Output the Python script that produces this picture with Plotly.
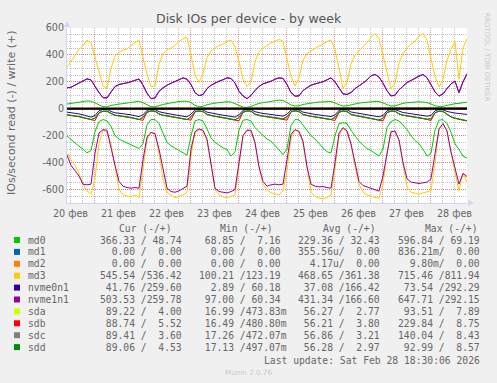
import plotly.graph_objects as go
import pandas as pd

# ---------------- data (2-hour samples, Feb 20 10:30 -> Feb 28 18:30) ----------------
t_start = "2026-02-20 10:30"
t_end = "2026-02-28 18:30"

devices = ["md0", "md1", "md2", "md3", "nvme0n1", "nvme1n1", "sda", "sdb", "sdc", "sdd"]
colors = ["#00CC00", "#0066B3", "#FF8000", "#FFCC00", "#330099",
          "#990099", "#CCFF00", "#FF0000", "#808080", "#008F00"]

md0_read = [203, 230, 255, 278, 300, 327, 310, 170, 95, 80,
            90, 130, 200, 225, 240, 255, 270, 280, 295, 260,
            120, 80, 80, 110, 180, 250, 275, 295, 310, 327,
            345, 200, 90, 80, 90, 150, 215, 250, 270, 290,
            302, 352, 320, 160, 85, 80, 90, 140, 170, 200,
            225, 240, 270, 305, 340, 300, 125, 80, 82, 120,
            155, 200, 225, 260, 290, 320, 327, 200, 110, 104,
            110, 160, 200, 240, 270, 295, 310, 330, 352, 300,
            140, 95, 80, 90, 120, 154, 200, 235, 260, 300,
            352, 330, 160, 85, 80, 110, 175, 260, 302, 352,
            366]
md0_write = [35, 40, 45, 50, 55, 58, 56, 45, 30, 15,
             14, 25, 32, 35, 38, 42, 48, 52, 56, 45,
             28, 15, 15, 25, 32, 38, 45, 50, 54, 56,
             56, 45, 25, 15, 18, 30, 38, 42, 46, 50,
             52, 50, 40, 25, 12, 10, 18, 30, 40, 45,
             50, 55, 60, 64, 62, 45, 28, 20, 22, 32,
             38, 42, 46, 50, 52, 55, 54, 42, 28, 20,
             22, 30, 38, 42, 46, 50, 52, 54, 54, 42,
             28, 20, 22, 32, 40, 45, 48, 50, 52, 50,
             46, 35, 22, 17, 18, 25, 32, 38, 40, 45,
             49]
md1_read = [0, 0, 0, 0, 0, 0, 0, 0, 0, 0,  0, 0, 0, 0, 0, 0, 0, 0, 0, 0,
            0, 0, 0, 0, 0, 0, 0, 0, 0, 0,  0, 0, 0, 0, 0, 0, 0, 0, 0, 0,
            0, 0, 0, 0, 0, 0, 0, 0, 0, 0,  0, 0, 0, 0, 0, 0, 0, 0, 0, 0,
            0, 0, 0, 0, 0, 0, 0, 0, 0, 0,  0, 0, 0, 0, 0, 0, 0, 0, 0, 0,
            0, 0, 0, 0, 0, 0, 0, 0, 0, 0,  0, 0, 0, 0, 0, 0, 0, 0, 0, 0, 0]
md1_write = [0, 0, 0, 0, 0, 0, 0, 0, 0, 0,  0, 0, 0, 0, 0, 0, 0, 0, 0, 0,
             0, 0, 0, 0, 0, 0, 0, 0, 0, 0,  0, 0, 0, 0, 0, 0, 0, 0, 0, 0,
             0, 0, 0, 0, 0, 0, 0, 0, 0, 0,  0, 0, 0, 0, 0, 0, 0, 0, 0, 0,
             0, 0, 0, 0, 0, 0, 0, 0, 0, 0,  0, 0, 0, 0, 0, 0, 0, 0, 0, 0,
             0, 0, 0, 0, 0, 0, 0, 0, 0, 0,  0, 0, 0, 0, 0, 0, 0, 0, 0, 0, 0]
md2_read = [0, 0, 0, 0, 0, 0, 0, 0, 0, 0,  0, 0, 0, 0, 0, 0, 0, 0, 0, 0,
            0, 0, 0, 0, 0, 0, 0, 0, 0, 0,  0, 0, 0, 0, 0, 0, 0, 0, 0, 0,
            0, 0, 0, 0, 0, 0, 0, 0, 0, 0,  0, 0, 0, 0, 0, 0, 0, 0, 0, 0,
            0, 0, 0, 0, 0, 0, 0, 0, 0, 0,  0, 0, 0, 0, 0, 0, 0, 0, 0, 0,
            0, 0, 0, 0, 0, 0, 0, 0, 0, 0,  0, 0, 0, 0, 0, 0, 0, 0, 0, 0, 0]
md2_write = [0, 0, 0, 0, 0, 0, 0, 0, 0, 0,  0, 0, 0, 0, 0, 0, 0, 0, 0, 0,
             0, 0, 0, 0, 0, 0, 0, 0, 0, 0,  0, 0, 0, 0, 0, 0, 0, 0, 0, 0,
             0, 0, 0, 0, 0, 0, 0, 0, 0, 0,  0, 0, 0, 0, 0, 0, 0, 0, 0, 0,
             0, 0, 0, 0, 0, 0, 0, 0, 0, 0,  0, 0, 0, 0, 0, 0, 0, 0, 0, 0,
             0, 0, 0, 0, 0, 0, 0, 0, 0, 0,  0, 0, 0, 0, 0, 0, 0, 0, 0, 0, 0]
md3_read = [327, 380, 420, 480, 560, 610, 635, 520, 260, 160,
            170, 260, 430, 600, 640, 650, 655, 640, 660, 450,
            230, 175, 190, 330, 520, 620, 640, 660, 650, 640,
            620, 350, 180, 155, 165, 240, 420, 600, 640, 650,
            665, 650, 640, 430, 200, 155, 165, 260, 440, 560,
            600, 625, 630, 640, 610, 460, 220, 155, 165, 260,
            440, 620, 650, 665, 670, 660, 640, 450, 200, 145,
            170, 270, 430, 560, 620, 640, 650, 660, 665, 560,
            330, 170, 170, 240, 420, 580, 620, 630, 635, 625,
            620, 610, 400, 150, 110, 170, 330, 460, 610, 480,
            545]
md3_write = [307, 350, 400, 440, 470, 510, 490, 380, 270, 170,
             150, 300, 390, 420, 435, 445, 470, 490, 510, 380,
             260, 165, 170, 330, 410, 440, 450, 470, 500, 520,
             530, 400, 250, 195, 260, 380, 430, 450, 470, 480,
             500, 510, 460, 350, 220, 165, 200, 350, 420, 450,
             470, 490, 500, 515, 500, 380, 240, 170, 230, 360,
             410, 430, 450, 465, 480, 500, 510, 440, 300, 150,
             200, 330, 400, 430, 460, 490, 530, 560, 520, 400,
             260, 150, 190, 340, 410, 450, 480, 500, 540, 560,
             510, 380, 240, 160, 220, 360, 440, 500, 220, 450,
             520]
nvme0n1_read = [25, 28, 32, 38, 45, 55, 62, 50, 15, 5,
                5, 20, 30, 33, 36, 40, 45, 52, 58, 45,
                12, 4, 6, 22, 30, 35, 40, 44, 50, 55,
                60, 40, 10, 4, 8, 25, 32, 38, 42, 48,
                52, 58, 62, 45, 12, 5, 6, 22, 30, 35,
                38, 42, 46, 50, 55, 40, 10, 4, 8, 25,
                32, 38, 42, 46, 50, 55, 58, 45, 12, 5,
                7, 24, 30, 36, 40, 45, 50, 55, 60, 50,
                15, 5, 6, 20, 28, 32, 36, 40, 45, 50,
                55, 50, 15, 5, 8, 20, 28, 32, 35, 38,
                42]
nvme0n1_write = [155, 160, 176, 190, 209, 222, 214, 166, 120, 83,
                 80, 124, 165, 181, 185, 192, 201, 212, 221, 176,
                 115, 76, 80, 129, 157, 175, 189, 200, 216, 230,
                 219, 181, 120, 97, 106, 150, 174, 190, 206, 215,
                 229, 225, 191, 130, 96, 75, 99, 135, 166, 185,
                 193, 204, 220, 229, 226, 180, 121, 94, 96, 135,
                 157, 175, 184, 192, 201, 215, 229, 200, 151, 110,
                 107, 120, 149, 168, 191, 215, 244, 255, 236, 190,
                 134, 96, 100, 141, 170, 194, 210, 226, 245, 254,
                 231, 180, 126, 94, 111, 150, 184, 205, 120, 200,
                 260]
nvme1n1_read = [345, 420, 460, 500, 560, 565, 560, 330, 180, 155,
                160, 300, 420, 540, 575, 585, 590, 585, 590, 380,
                210, 175, 185, 300, 440, 590, 615, 620, 610, 590,
                575, 300, 170, 150, 160, 225, 400, 590, 615, 620,
                625, 615, 600, 400, 200, 160, 160, 250, 430, 540,
                575, 565, 560, 565, 560, 380, 190, 155, 170, 240,
                430, 560, 575, 580, 578, 585, 590, 400, 180, 140,
                165, 260, 400, 540, 570, 580, 590, 600, 612, 500,
                320, 170, 165, 230, 400, 520, 545, 550, 555, 550,
                545, 520, 350, 150, 110, 165, 320, 430, 560, 480,
                503]
nvme1n1_write = [156, 160, 175, 190, 210, 222, 215, 165, 120, 82,
                 80, 125, 165, 180, 185, 193, 200, 212, 222, 175,
                 115, 75, 80, 130, 156, 175, 190, 200, 215, 230,
                 220, 180, 120, 98, 105, 150, 175, 190, 205, 215,
                 230, 225, 190, 130, 95, 75, 100, 135, 165, 185,
                 193, 205, 220, 230, 225, 180, 120, 94, 95, 135,
                 156, 175, 185, 192, 200, 215, 230, 200, 150, 110,
                 106, 120, 150, 168, 190, 215, 245, 255, 235, 190,
                 135, 95, 100, 140, 170, 195, 210, 225, 245, 255,
                 230, 180, 125, 94, 110, 150, 185, 205, 119, 200,
                 260]
sda_read = [44, 47, 51, 57, 64, 71, 79, 69, 29, 17,
            17, 34, 47, 51, 54, 59, 64, 71, 79, 64,
            24, 15, 17, 37, 47, 51, 57, 61, 67, 73,
            79, 59, 21, 15, 19, 41, 49, 55, 59, 65,
            71, 77, 81, 64, 24, 15, 17, 39, 49, 54,
            57, 61, 65, 69, 74, 59, 21, 14, 19, 41,
            49, 55, 59, 64, 69, 74, 79, 64, 24, 15,
            19, 41, 49, 54, 59, 65, 71, 77, 83, 69,
            27, 16, 17, 37, 47, 51, 55, 59, 65, 71,
            77, 73, 29, 16, 19, 39, 59, 69, 77, 83,
            89]
sda_write = [3, 3, 4, 4, 5, 5, 4, 3, 2, 2, 2, 3, 3, 4, 4, 5, 5, 4, 3, 2,
             2, 2, 3, 3, 4, 4, 5, 5, 4, 3, 2, 2, 2, 3, 3, 4, 4, 5, 5, 4,
             3, 2, 2, 2, 3, 3, 4, 4, 5, 5, 4, 3, 2, 2, 3, 3, 4, 4, 5, 5,
             4, 3, 2, 2, 2, 3, 3, 4, 4, 5, 5, 4, 3, 2, 2, 3, 3, 4, 4, 5,
             5, 4, 3, 2, 2, 3, 3, 4, 4, 5, 5, 4, 3, 2, 2, 3, 3, 4, 4, 4, 4]
sdb_read = [46, 49, 53, 59, 66, 73, 81, 88, 31, 19,
            19, 36, 49, 53, 56, 61, 66, 73, 81, 86,
            26, 17, 19, 39, 49, 53, 59, 63, 69, 75,
            81, 84, 23, 17, 21, 43, 51, 57, 61, 67,
            73, 79, 83, 90, 26, 17, 19, 41, 51, 56,
            59, 63, 67, 71, 76, 84, 23, 16, 21, 43,
            51, 57, 61, 66, 71, 76, 81, 87, 26, 17,
            21, 43, 51, 56, 61, 67, 73, 79, 85, 90,
            29, 18, 19, 39, 49, 53, 57, 61, 67, 73,
            79, 88, 31, 18, 21, 41, 61, 71, 79, 85,
            89]
sdb_write = [4, 4, 5, 5, 6, 6, 5, 4, 3, 3, 3, 4, 4, 5, 5, 6, 6, 5, 4, 3,
             3, 3, 4, 4, 5, 5, 6, 6, 5, 4, 3, 3, 3, 4, 4, 5, 5, 6, 6, 5,
             4, 3, 3, 3, 4, 4, 5, 5, 6, 6, 5, 4, 3, 3, 4, 4, 5, 5, 6, 6,
             5, 4, 3, 3, 3, 4, 4, 5, 5, 6, 6, 5, 4, 3, 3, 4, 4, 5, 5, 6,
             6, 5, 4, 3, 3, 4, 4, 5, 5, 6, 6, 5, 4, 3, 3, 4, 4, 5, 5, 5, 6]
sdc_read = [45, 48, 53, 58, 65, 72, 80, 71, 30, 18,
            18, 35, 48, 52, 56, 60, 65, 72, 80, 66,
            25, 16, 18, 38, 48, 52, 58, 62, 68, 74,
            80, 61, 22, 16, 20, 42, 50, 56, 60, 66,
            72, 78, 82, 66, 25, 16, 18, 40, 50, 55,
            58, 62, 66, 70, 75, 61, 22, 15, 20, 42,
            50, 56, 60, 65, 70, 75, 80, 66, 25, 16,
            20, 42, 50, 55, 60, 66, 72, 78, 84, 71,
            28, 17, 18, 38, 48, 52, 56, 60, 66, 72,
            78, 75, 30, 17, 20, 40, 60, 70, 78, 84,
            89]
sdc_write = [3, 3, 3, 4, 4, 5, 4, 3, 2, 2, 2, 2, 3, 3, 4, 4, 5, 4, 3, 2,
             2, 2, 2, 3, 3, 4, 4, 5, 4, 3, 2, 2, 2, 2, 3, 3, 4, 4, 5, 4,
             3, 2, 2, 2, 2, 3, 3, 4, 4, 5, 4, 3, 2, 2, 2, 3, 3, 4, 4, 5,
             4, 3, 2, 2, 2, 2, 3, 3, 4, 4, 5, 4, 3, 2, 2, 2, 3, 3, 4, 4,
             5, 4, 3, 2, 2, 2, 3, 3, 4, 4, 5, 4, 3, 2, 2, 2, 3, 3, 4, 4, 4]
sdd_read = [45, 48, 52, 58, 65, 72, 80, 70, 30, 18,
            18, 35, 48, 52, 55, 60, 65, 72, 80, 65,
            25, 16, 18, 38, 48, 52, 58, 62, 68, 74,
            80, 60, 22, 16, 20, 42, 50, 56, 60, 66,
            72, 78, 82, 65, 25, 16, 18, 40, 50, 55,
            58, 62, 66, 70, 75, 60, 22, 15, 20, 42,
            50, 56, 60, 65, 70, 75, 80, 65, 25, 16,
            20, 42, 50, 55, 60, 66, 72, 78, 84, 70,
            28, 17, 18, 38, 48, 52, 56, 60, 66, 72,
            78, 74, 30, 17, 20, 40, 60, 70, 78, 84,
            89]
sdd_write = [3, 3, 4, 4, 5, 6, 5, 4, 3, 2, 2, 3, 3, 4, 5, 5, 6, 5, 4, 3,
             2, 2, 3, 3, 4, 5, 5, 6, 5, 4, 3, 2, 2, 3, 3, 4, 5, 5, 6, 5,
             4, 3, 2, 2, 3, 3, 4, 5, 5, 6, 5, 4, 3, 2, 3, 3, 4, 5, 5, 6,
             5, 4, 3, 2, 2, 3, 3, 4, 5, 5, 6, 5, 4, 3, 2, 3, 3, 4, 5, 5,
             6, 5, 4, 3, 2, 3, 3, 4, 5, 5, 6, 5, 4, 3, 2, 3, 3, 4, 5, 5, 5]

reads = [md0_read, md1_read, md2_read, md3_read, nvme0n1_read,
         nvme1n1_read, sda_read, sdb_read, sdc_read, sdd_read]
writes = [md0_write, md1_write, md2_write, md3_write, nvme0n1_write,
          nvme1n1_write, sda_write, sdb_write, sdc_write, sdd_write]

# legend statistics (read / write)
cur_read = ["366.33", "0.00", "0.00", "545.54", "41.76", "503.53", "89.22", "88.74", "89.41", "89.06"]
cur_write = ["48.74", "0.00", "0.00", "536.42", "259.60", "259.78", "4.00", "5.52", "3.60", "4.53"]
min_read = ["68.85", "0.00", "0.00", "100.21", "2.89", "97.00", "16.99", "16.49", "17.26", "17.13"]
min_write = ["7.16", "0.00", "0.00", "123.19", "60.18", "60.34", "473.83m", "480.80m", "472.07m", "497.07m"]
avg_read = ["229.36", "355.56u", "4.17u", "468.65", "37.08", "431.34", "56.27", "56.21", "56.86", "56.28"]
avg_write = ["32.43", "0.00", "0.00", "361.38", "166.42", "166.60", "2.77", "3.80", "3.21", "2.97"]
max_read = ["596.84", "836.21m", "9.80m", "715.46", "73.54", "647.71", "93.51", "229.84", "140.04", "92.99"]
max_write = ["69.19", "0.00", "0.00", "811.94", "292.29", "292.15", "7.89", "8.75", "8.43", "8.57"]

day_labels = ["20 фев", "21 фев", "22 фев", "23 фев", "24 фев", "25 фев", "26 фев", "27 фев", "28 фев"]
day_label_times = ["2026-02-20 12:00", "2026-02-21 12:00", "2026-02-22 12:00", "2026-02-23 12:00",
                   "2026-02-24 12:00", "2026-02-25 12:00", "2026-02-26 12:00", "2026-02-27 12:00",
                   "2026-02-28 12:00"]
y_tick_vals = [-600, -400, -200, 0, 200, 400, 600]
y_tick_text = ["-600", "-400", "-200", "0", "200", "400", "600"]

title = "Disk IOs per device - by week"
y_title = "IOs/second read (-) / write (+)"
last_update = "Last update: Sat Feb 28 18:30:06 2026"

# ---------------- figure ----------------
W, H = 497, 383
L, R, T, B = 67, 467, 28, 203
times = pd.date_range(t_start, t_end, freq="2h")

fig = go.Figure()
for dev, col, rd, wr in zip(devices, colors, reads, writes):
    fig.add_trace(go.Scatter(x=times, y=[-v for v in rd], mode="lines",
                             line=dict(color=col, width=1), hoverinfo="skip", name=dev))
    fig.add_trace(go.Scatter(x=times, y=wr, mode="lines",
                             line=dict(color=col, width=1), hoverinfo="skip", name=dev))


def px(x):
    return (x - L) / (R - L)


def py(y):
    return (B - y) / (B - T)


FONT = "#666666"
SANS = "DejaVu Sans"
MONO = "DejaVu Sans Mono"
NB = "\u00a0"

annotations = []


def ann(x, y, text, size, family=SANS, color=FONT, xanchor="left", angle=0):
    annotations.append(dict(x=px(x), y=py(y), xref="paper", yref="paper", text=text,
                            showarrow=False, xanchor=xanchor, yanchor="middle",
                            textangle=angle, font=dict(family=family, size=size, color=color)))


ann(248.5, 18.5, title, 12.5, xanchor="center", color="#555555")
ann(11, 113, y_title, 11, xanchor="center", angle=-90)
ann(486.5, 57, "RRDTOOL / TOBI OETIKER", 6.9, xanchor="center", angle=90, color="#C8C8C8")

for lab, tm in zip(day_labels, day_label_times):
    annotations.append(dict(x=tm, y=0, xref="x", yref="paper", text=lab, showarrow=False,
                            xanchor="center", yanchor="top", yshift=-3,
                            font=dict(family=SANS, size=9.6, color=FONT)))

# legend table
def fmt(s):
    if s[-1] in "umkM":
        num, suf = s[:-1], s[-1]
    else:
        num, suf = s, " "
    return num.rjust(6) + suf


col_x = [97.5, 196.8, 296.0, 395.7]
head_x = [116.7, 218.0, 320.7, 422.7]
for hx, hname in zip(head_x, ["Cur", "Min", "Avg", "Max"]):
    ann(hx, 228, (hname + " (-/+)").replace(" ", NB), 9.7, family=MONO)

shapes = []
row_y0, row_dy = 240, 11.9
for i, dev in enumerate(devices):
    yy = row_y0 + row_dy * i
    shapes.append(dict(type="rect", xref="paper", yref="paper",
                       x0=px(14), x1=px(20), y0=py(yy + 3), y1=py(yy - 3),
                       fillcolor=colors[i], line=dict(width=0)))
    ann(26, yy, dev, 9.7, family=MONO)
    stats = [(cur_read[i], cur_write[i]), (min_read[i], min_write[i]),
             (avg_read[i], avg_write[i]), (max_read[i], max_write[i])]
    for cx, (r, w) in zip(col_x, stats):
        ann(cx, yy, (fmt(r) + "/" + fmt(w)).replace(" ", NB), 9.7, family=MONO)

ann(262, 360, last_update.replace(" ", NB), 9.7, family=MONO)
ann(248, 372, "Munin 2.0.76", 7.2, xanchor="center", color="#C8C8C8")

# zero rule
shapes.append(dict(type="line", xref="paper", yref="y", x0=0, x1=1, y0=0, y1=0,
                   line=dict(color="#000000", width=2), layer="above"))
# axis arrows
AX = "#CFD5F8"
shapes.append(dict(type="path", xref="paper", yref="paper",
                   path=f"M {px(64)},{py(27)} L {px(70)},{py(27)} L {px(67)},{py(21)} Z",
                   fillcolor=AX, line=dict(width=0)))
shapes.append(dict(type="path", xref="paper", yref="paper",
                   path=f"M {px(468)},{py(200)} L {px(468)},{py(206)} L {px(474)},{py(203)} Z",
                   fillcolor=AX, line=dict(width=0)))

MGRID = "rgba(222,80,80,0.6)"
GRID = "rgba(143,143,143,0.55)"

fig.update_layout(
    width=W, height=H, autosize=False,
    margin=dict(l=L, r=W - R, t=T, b=H - B, pad=0),
    paper_bgcolor="#F0F0F0", plot_bgcolor="#FFFFFF",
    showlegend=False,
    font=dict(family=SANS, size=9.6, color=FONT),
    annotations=annotations, shapes=shapes,
    xaxis=dict(type="date", range=[t_start, t_end], showticklabels=False,
               showgrid=True, gridcolor=MGRID, griddash="1px,1px", gridwidth=1,
               tick0="2026-02-21 00:00", dtick=86400000, ticks="",
               showline=True, linecolor=AX, linewidth=1, zeroline=False,
               minor=dict(tick0="2026-02-21 00:00", dtick=21600000, showgrid=True,
                          gridcolor=GRID, griddash="1px,1px", gridwidth=1)),
    yaxis=dict(range=[-700, 600], tickmode="array", tickvals=y_tick_vals, ticktext=y_tick_text,
               showgrid=True, gridcolor=MGRID, griddash="1px,1px", gridwidth=1,
               ticks="", showline=True, linecolor=AX, linewidth=1, zeroline=False,
               tickfont=dict(family=SANS, size=9.6, color=FONT),
               minor=dict(tickmode="linear", tick0=0, dtick=50, showgrid=True,
                          gridcolor=GRID, griddash="1px,1px", gridwidth=1)),
)

fig.write_html("out.html", config={"displayModeBar": False},
               post_script="document.body.style.margin='0px';document.body.style.background='#F0F0F0';")
